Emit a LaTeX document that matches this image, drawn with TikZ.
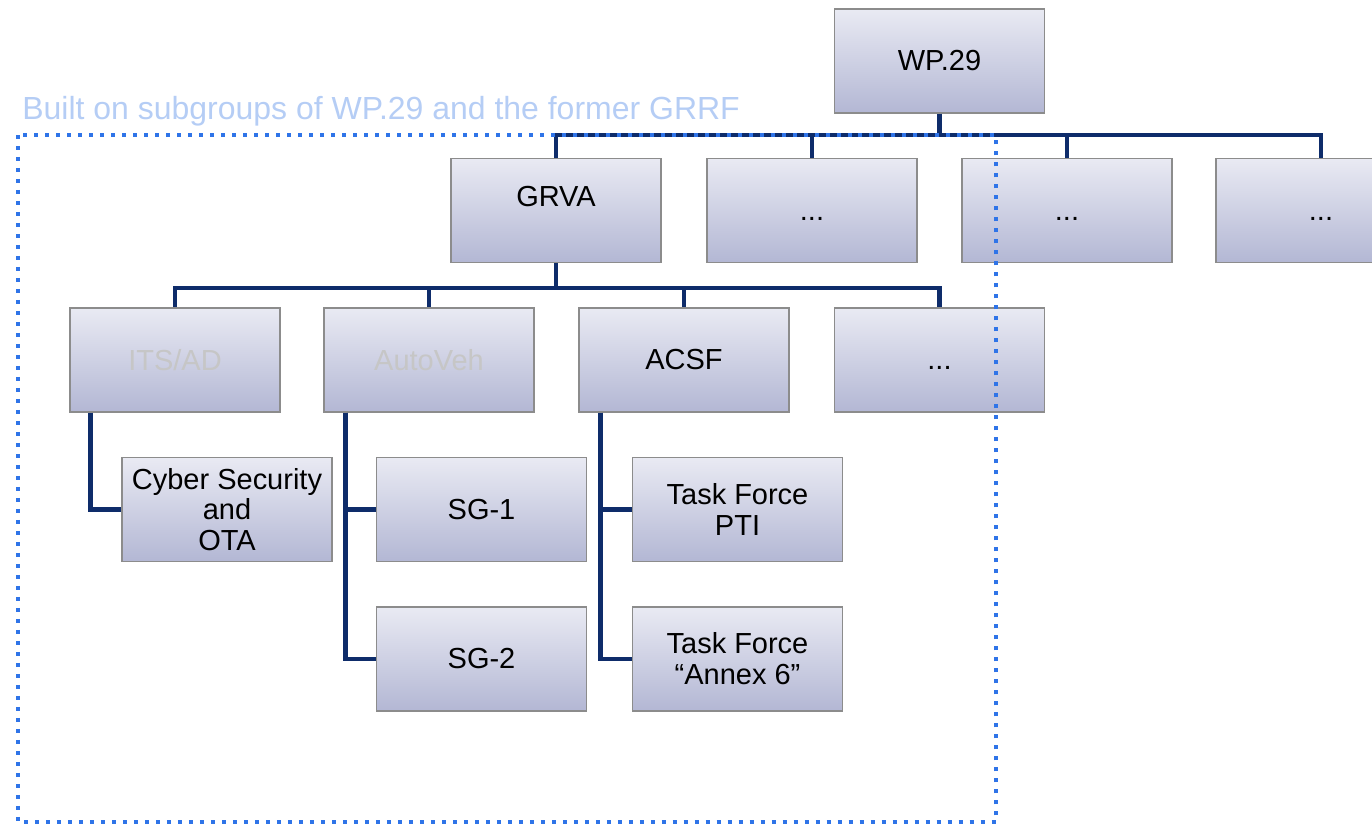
\documentclass[tikz,border=0pt]{standalone}
\usepackage{fontspec}
\setmainfont{Liberation Sans}
\definecolor{linknavy}{HTML}{0E2C6A}
\definecolor{boxtop}{HTML}{E9EAF3}
\definecolor{boxbot}{HTML}{B3B7D4}
\definecolor{boxedge}{HTML}{8C8C8C}
\definecolor{framblue}{HTML}{2F74E8}
\definecolor{titleblue}{HTML}{B5CDF5}
\definecolor{fadedtext}{HTML}{C6C6C6}
\newcommand{\ellip}{\vphantom{A}...}
\begin{document}
\begin{tikzpicture}[x=0.02cm,y=-0.02cm,
  unit/.style={draw=boxedge,line width=0.03cm,top color=boxtop,bottom color=boxbot,
    minimum width=4.2cm,minimum height=2.08cm,inner sep=0pt,align=center,
    font=\fontsize{16.5}{17.5}\selectfont},
  faded/.style={unit,text=fadedtext},
  link/.style={draw=linknavy,line width=0.09cm},
  scopeframe/.style={draw=framblue,line width=0.08cm,dash pattern=on 0.08cm off 0.14cm}]
\useasboundingbox (0,0) rectangle (1372,825);

% top level
\node[unit] (wp) at (939.5,61) {WP.29};
% working parties
\node[unit] (grva) at (556,210.5) {\raisebox{0.3cm}[0.42cm][0cm]{GRVA}};
\node[unit] (wpa) at (812,210.5) {\ellip};
\node[unit] (wpb) at (1067,210.5) {\ellip};
\node[unit] (wpc) at (1321,210.5) {\ellip};
% informal groups under GRVA
\node[faded] (its) at (175,360) {ITS/AD};
\node[faded] (auto) at (429,360) {AutoVeh};
\node[unit] (acsf) at (684,360) {ACSF};
\node[unit] (iga) at (939.5,360) {\ellip};
% subgroups and task forces
\node[unit] (cyber) at (227,509.5) {Cyber Security\\and\\OTA};
\node[unit] (sgone) at (481.5,509.5) {SG-1};
\node[unit] (sgtwo) at (481.5,659) {SG-2};
\node[unit] (pti) at (737.5,509.5) {Task Force\\PTI};
\node[unit] (annex) at (737.5,659) {Task Force\\“Annex 6”};

% WP.29 bus
\coordinate (busa) at (939.5,135);
\draw[link] (wp.south) -- (busa);
\draw[link] (busa) -| (grva.north);
\draw[link] (busa) -| (wpa.north);
\draw[link] (busa) -| (wpb.north);
\draw[link] (busa) -| (wpc.north);
% GRVA bus
\coordinate (busb) at (556,288);
\draw[link] (grva.south) -- (busb);
\draw[link] (busb) -| (its.north);
\draw[link] (busb) -| (auto.north);
\draw[link] (busb) -| (acsf.north);
\draw[link] (busb) -| (iga.north);
% elbows to children
\draw[link] ([xshift=0.42cm]its.south west) |- (cyber.west);
\draw[link] ([xshift=0.44cm]auto.south west) |- (sgone.west);
\draw[link] ([xshift=0.44cm]auto.south west) |- (sgtwo.west);
\draw[link] ([xshift=0.44cm]acsf.south west) |- (pti.west);
\draw[link] ([xshift=0.44cm]acsf.south west) |- (annex.west);

% scope frame and its caption
\draw[scopeframe] (18,135) rectangle (996,822);
\node[anchor=base west,text=titleblue,inner sep=0pt,font=\fontsize{18.2}{19}\selectfont]
  (caption) at (22,119) {Built on subgroups of WP.29 and the former GRRF};
\end{tikzpicture}
\end{document}
